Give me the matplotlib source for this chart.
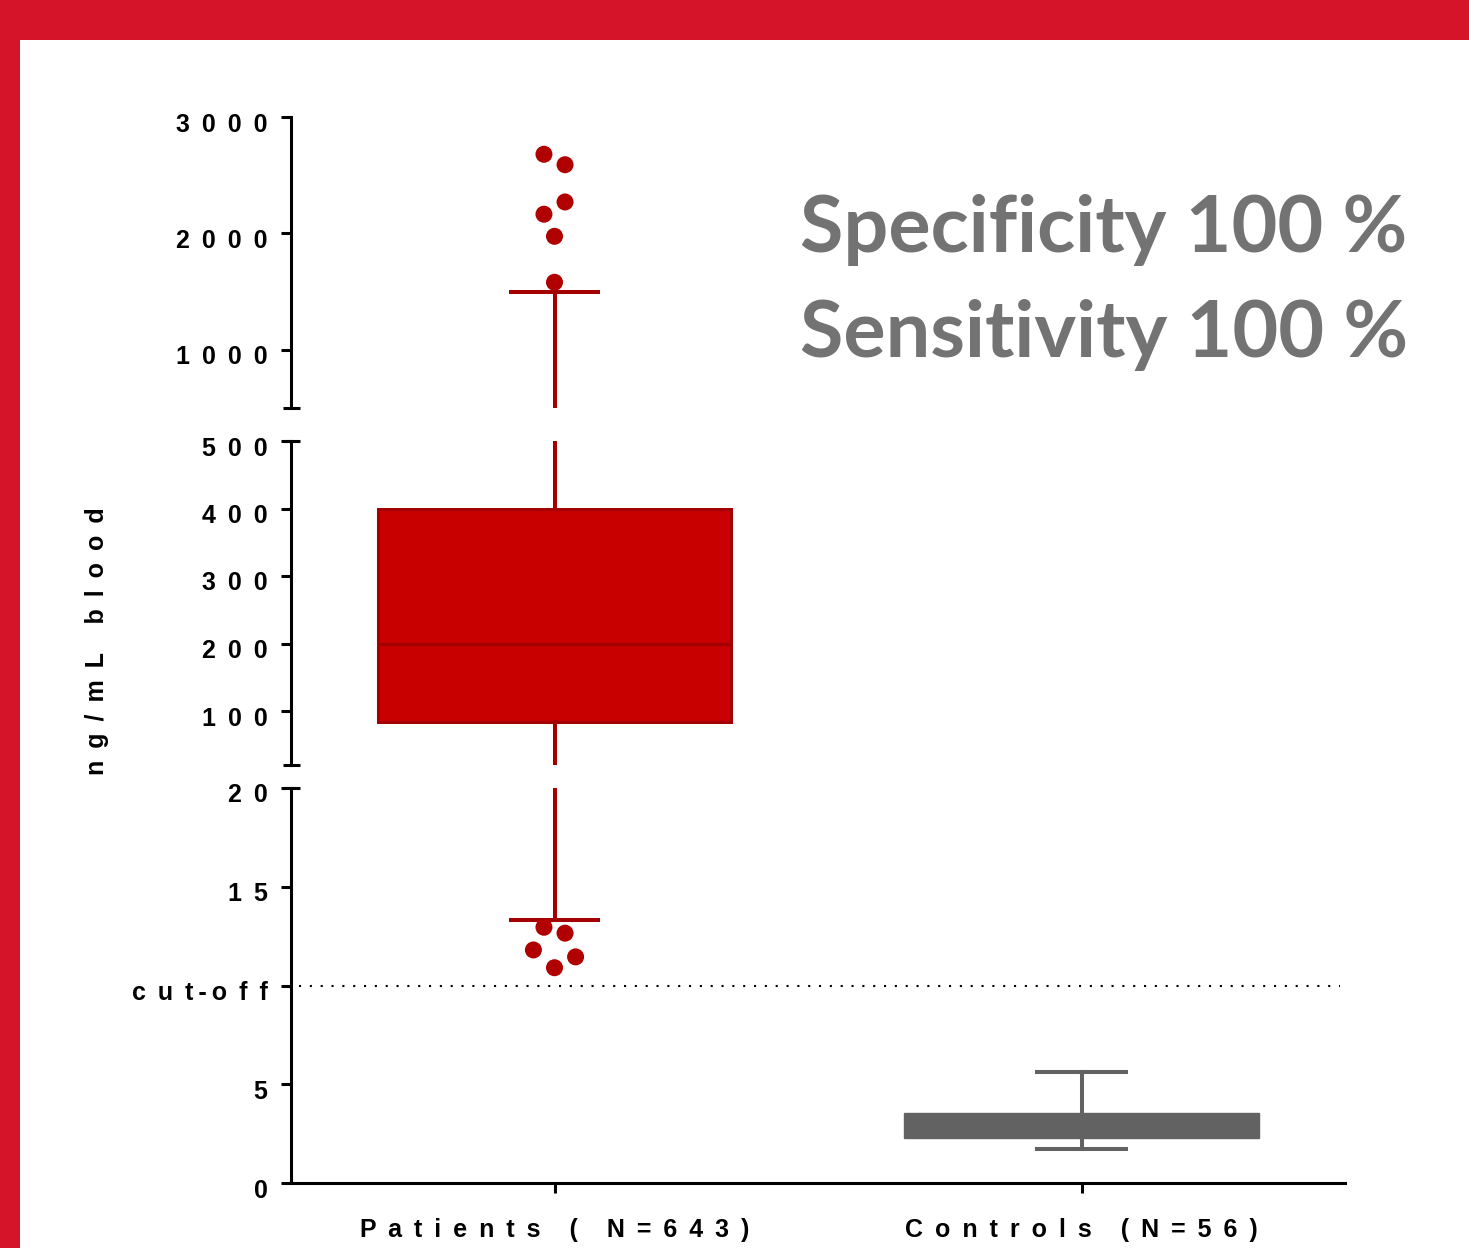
import matplotlib
matplotlib.use('Agg')
import matplotlib.pyplot as plt
import matplotlib.transforms as mtransforms
from matplotlib.patches import Rectangle

# Values (ng/mL blood)
groups = ['Patients', 'Controls']
group_labels = ['Patients ( N=643)', 'Controls (N=56)']
q1 = [84, 2.3]
med = [200, 2.9]
q3 = [400, 3.55]
whislo = [13.3, 1.7]
whishi = [1500, 5.6]
cutoff = 10

# outliers of the patients group and their horizontal jitter
fliers = [2680, 2590, 2270, 2165, 1975, 1580, 12.95, 12.65, 11.8, 11.45, 10.9]
jitter = [-0.02, 0.02, 0.02, -0.02, 0.0, 0.0, -0.02, 0.02, -0.04, 0.04, 0.0]

# the three pieces of the broken y axis
top_lim, top_ticks, top_labels = (500, 3000), [1000, 2000, 3000], ['1000', '2000', '3000']
mid_lim, mid_ticks, mid_labels = (20, 500), [100, 200, 300, 400, 500], ['100', '200', '300', '400', '500']
low_lim, low_ticks, low_labels = (0, 20), [0, 5, 10, 15, 20], ['0', '5', 'cut-off', '15', '20']

red_face = '#C80000'
red_edge = '#A30000'
grey = '#626262'
frame_red = '#D51429'

plt.rcParams['font.family'] = ['Liberation Sans', 'DejaVu Sans']

SEP = ' \u2009'


def spaced(text):
    # the original uses wide letter spacing (hyphens stay tight)
    out = ''
    for i, c in enumerate(text):
        if i > 0:
            out += '\u2009' if '-' in (c, text[i - 1]) else SEP
        out += '\u2009' if c == ' ' else c
    return out


fig = plt.figure(figsize=(14.69, 12.48), dpi=100)
fig.patch.set_facecolor('white')

# red frame along the top and left edges
fig.patches.append(Rectangle((0, 1 - 40 / 1248), 1, 40 / 1248, transform=fig.transFigure,
                             facecolor=frame_red, edgecolor='none', zorder=0))
fig.patches.append(Rectangle((0, 0), 20 / 1469, 1, transform=fig.transFigure,
                             facecolor=frame_red, edgecolor='none', zorder=0))

left = 291 / 1469
width = (1345 - 291) / 1469
ax_low = fig.add_axes([left, 65 / 1248, width, 395 / 1248])
ax_mid = fig.add_axes([left, 483 / 1248, width, 324 / 1248])
ax_top = fig.add_axes([left, 840 / 1248, width, 291 / 1248])

positions = [1, 2]
stats = []
for i in range(len(groups)):
    stats.append(dict(label=groups[i], med=med[i], q1=q1[i], q3=q3[i],
                      whislo=whislo[i], whishi=whishi[i], fliers=[]))

label_shift = mtransforms.ScaledTranslation(0, -0.05, fig.dpi_scale_trans)

for ax, lim, ticks, labels in [(ax_top, top_lim, top_ticks, top_labels),
                               (ax_mid, mid_lim, mid_ticks, mid_labels),
                               (ax_low, low_lim, low_ticks, low_labels)]:
    # patients box
    ax.bxp([stats[0]], positions=[positions[0]], widths=0.67, patch_artist=True,
           showfliers=False, manage_ticks=False, capwidths=0.165,
           boxprops=dict(facecolor=red_face, edgecolor=red_edge, linewidth=2.2),
           medianprops=dict(color=red_edge, linewidth=2.2),
           whiskerprops=dict(color=red_edge, linewidth=2.9),
           capprops=dict(color=red_edge, linewidth=2.9))
    # controls box
    ax.bxp([stats[1]], positions=[positions[1]], widths=0.675, patch_artist=True,
           showfliers=False, manage_ticks=False, capwidths=0.167,
           boxprops=dict(facecolor=grey, edgecolor=grey, linewidth=1.0),
           medianprops=dict(color=grey, linewidth=1.0),
           whiskerprops=dict(color=grey, linewidth=2.9),
           capprops=dict(color=grey, linewidth=2.9))

    # outlier dots, only on the piece of the axis they belong to
    xs = [positions[0] + j for f, j in zip(fliers, jitter) if lim[0] <= f <= lim[1]]
    ys = [f for f in fliers if lim[0] <= f <= lim[1]]
    if ys:
        ax.scatter(xs, ys, s=150, color='#B00000', edgecolors='none', zorder=4)

    ax.set_xlim(0.5, 2.5)
    ax.set_ylim(*lim)
    ax.set_yticks(ticks)
    ax.tick_params(axis='y', length=7, width=2.2, pad=10, color='black')
    ax.set_yticklabels([spaced(t) for t in labels], fontsize=18, fontweight='bold')
    for lab in ax.get_yticklabels():
        lab.set_transform(lab.get_transform() + label_shift)
    ax.patch.set_alpha(0)
    for s in ['top', 'right']:
        ax.spines[s].set_visible(False)
    ax.spines['left'].set_linewidth(2.2)

for ax in [ax_top, ax_mid]:
    ax.spines['bottom'].set_visible(False)
    ax.set_xticks([])

ax_low.spines['bottom'].set_linewidth(2.2)
ax_low.set_xticks(positions)
ax_low.set_xticklabels([spaced(t) for t in group_labels], fontsize=18, fontweight='bold')
ax_low.tick_params(axis='x', length=7, width=2.2, pad=18)

# caps at the ends of the axis breaks
for ax, ends in [(ax_top, [0]), (ax_mid, [0, 1]), (ax_low, [1])]:
    for e in ends:
        ax.plot([-0.0075, 0.0085], [e, e], transform=ax.transAxes, color='black',
                linewidth=2.2, clip_on=False, solid_capstyle='butt')

# cut-off line
ax_low.axhline(cutoff, xmin=0.008, xmax=0.995, color='black', linewidth=1.5,
               linestyle=(0, (1, 4.2)), zorder=1)

fig.text(97 / 1469, 0.486, spaced('ng/mL blood'), rotation=90, ha='center', va='center',
         fontsize=18, fontweight='bold')

fig.text(800 / 1469, 1 - 252 / 1248, 'Specificity 100 %', fontsize=57, fontweight='bold',
         color='#737373', family=['Lato', 'DejaVu Sans'], va='baseline', ha='left')
fig.text(800 / 1469, 1 - 357 / 1248, 'Sensitivity 100 %', fontsize=57, fontweight='bold',
         color='#737373', family=['Lato', 'DejaVu Sans'], va='baseline', ha='left')

fig.savefig('out.png', dpi=100, facecolor='white')
